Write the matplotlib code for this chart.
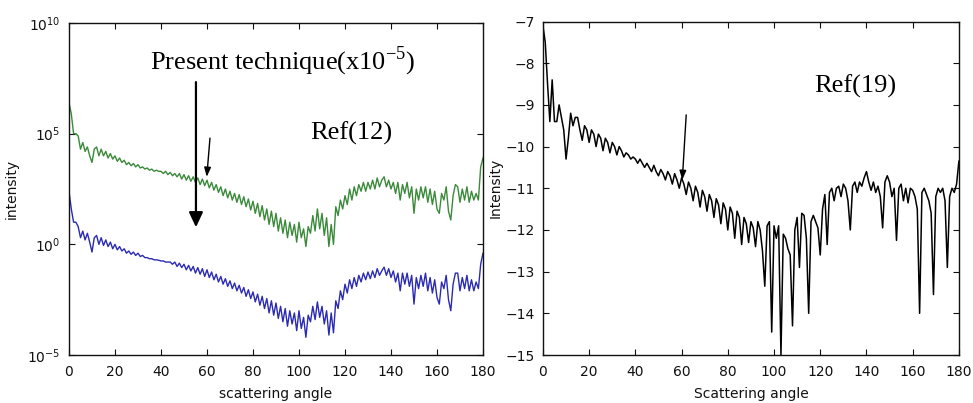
"""Two-panel scattering intensity comparison (Ref(12) vs present technique, Ref(19))."""

import matplotlib

matplotlib.use("Agg")
import matplotlib.pyplot as plt
import numpy as np

plt.rcParams["font.family"] = "DejaVu Sans"
plt.rcParams["mathtext.fontset"] = "custom"
plt.rcParams["mathtext.rm"] = "Liberation Serif"

GREEN, BLUE, INK = "#3a8a3a", "#2a2ab4", "#111111"
SERIF = "Liberation Serif"

# scattering angle, 1 degree steps
ANGLE = list(range(0, 181))

# Ref(12), log10 intensity
REF12_LOG = [
    6.4, 5.9, 5.0, 5.0, 4.9, 4.3, 4.6, 4.2, 4.4, 4.0,
    3.7, 4.3, 4.4, 4.0, 4.3, 4.0, 4.2, 3.9, 4.1, 3.85,
    4.0, 3.75, 3.9, 3.7, 3.8, 3.6, 3.7, 3.55, 3.65, 3.5,
    3.6, 3.45, 3.5, 3.4, 3.45, 3.35, 3.4, 3.3, 3.35, 3.3,
    3.3, 3.2, 3.3, 3.15, 3.25, 3.1, 3.2, 3.05, 3.2, 2.95,
    3.15, 2.9, 3.1, 2.85, 3.05, 2.8, 3.0, 2.7, 2.95, 2.65,
    2.9, 2.55, 2.8, 2.45, 2.7, 2.35, 2.6, 2.2, 2.5, 2.1,
    2.4, 2.0, 2.3, 1.9, 2.25, 1.8, 2.15, 1.7, 2.05, 1.55,
    1.95, 1.4, 1.85, 1.25, 1.75, 1.1, 1.6, 0.9, 1.5, 0.8,
    1.4, 0.6, 1.2, 0.5, 1.1, 0.3, 1.0, 0.4, 0.9, 0.1,
    1.0, 0.3, 0.7, -0.1, 0.8, 0.5, 1.3, 0.6, 1.6, 0.7,
    1.4, 0.4, 1.2, -0.1, 0.9, 0.0, 1.7, 1.3, 2.0, 1.6,
    2.2, 1.8, 2.5, 2.0, 2.6, 2.2, 2.7, 2.4, 2.8, 2.4,
    2.8, 2.5, 2.9, 2.5, 3.0, 2.6, 2.9, 3.05, 2.6, 2.9,
    2.5, 2.8, 2.3, 2.8, 2.0, 2.7, 2.3, 2.8, 2.1, 2.6,
    1.4, 2.5, 2.0, 2.6, 2.1, 2.6, 1.9, 2.5, 1.8, 2.4,
    1.6, 1.4, 2.3, 2.0, 2.6, 1.5, 1.1, 2.2, 2.7, 2.6,
    1.9, 2.5, 2.0, 2.6, 1.9, 2.4, 2.0, 2.3, 2.0, 3.5,
    3.9,
]

# present technique (x1e-5), log10 intensity
PRESENT_LOG = [
    2.4, 1.6, 1.0, 1.0, 0.8, 0.3, 0.6, 0.2, 0.5, 0.1,
    -0.35, 0.3, 0.4, 0.0, 0.3, -0.05, 0.2, -0.1, 0.1, -0.2,
    0.0, -0.25, -0.1, -0.3, -0.2, -0.4, -0.3, -0.45, -0.35, -0.5,
    -0.4, -0.55, -0.5, -0.6, -0.6, -0.65, -0.65, -0.7, -0.7, -0.72,
    -0.75, -0.75, -0.8, -0.8, -0.8, -0.9, -0.8, -1.0, -0.85, -1.05,
    -0.9, -1.15, -0.95, -1.2, -1.0, -1.3, -1.05, -1.35, -1.1, -1.45,
    -1.15, -1.5, -1.25, -1.6, -1.35, -1.7, -1.45, -1.8, -1.55, -1.9,
    -1.65, -2.0, -1.75, -2.1, -1.85, -2.2, -1.95, -2.35, -2.05, -2.45,
    -2.15, -2.6, -2.25, -2.75, -2.35, -2.9, -2.45, -3.1, -2.55, -3.2,
    -2.65, -3.35, -2.8, -3.5, -2.9, -3.7, -3.0, -3.6, -3.1, -3.9,
    -3.0, -3.8, -3.3, -4.2, -3.2, -3.5, -2.8, -3.4, -2.6, -3.3,
    -2.8, -3.6, -3.0, -4.1, -3.1, -4.0, -2.55, -2.9, -2.1, -2.5,
    -1.8, -2.2, -1.6, -2.0, -1.5, -1.9, -1.4, -1.7, -1.3, -1.6,
    -1.25, -1.55, -1.2, -1.5, -1.1, -1.4, -1.2, -1.03, -1.4, -1.1,
    -1.5, -1.2, -1.7, -1.3, -2.1, -1.3, -1.8, -1.3, -1.9, -1.4,
    -2.7, -1.5, -2.0, -1.4, -1.9, -1.3, -2.1, -1.5, -2.2, -1.6,
    -2.4, -2.7, -1.7, -2.0, -1.4, -2.5, -3.0, -1.8, -1.3, -1.3,
    -2.1, -1.5, -2.0, -1.4, -2.1, -1.6, -2.1, -1.7, -2.0, -0.9,
    -0.4,
]

# Ref(19), log10 intensity
REF19 = [
    -7.1, -7.5, -8.5, -9.4, -8.4, -9.4, -9.4, -9.0, -9.3, -9.6,
    -10.3, -9.8, -9.2, -9.5, -9.3, -9.3, -9.6, -9.85, -9.5, -9.6,
    -9.9, -9.6, -9.7, -10.0, -9.7, -9.8, -10.1, -9.8, -9.9, -10.15,
    -9.9, -10.0, -10.2, -10.0, -10.1, -10.25, -10.15, -10.2, -10.3, -10.25,
    -10.3, -10.4, -10.3, -10.4, -10.5, -10.4, -10.5, -10.6, -10.45, -10.6,
    -10.7, -10.55, -10.65, -10.8, -10.6, -10.7, -10.9, -10.65, -10.8, -11.0,
    -10.75, -10.9, -11.15, -10.85, -11.0, -11.3, -10.95, -11.1, -11.45, -11.05,
    -11.2, -11.55, -11.15, -11.3, -11.7, -11.25, -11.4, -11.85, -11.35, -11.5,
    -12.0, -11.45, -11.6, -12.2, -11.55, -11.7, -12.35, -11.7, -11.85, -12.3,
    -11.8, -11.95, -12.4, -11.8, -12.0, -12.5, -13.35, -11.9, -11.8, -14.45,
    -11.9, -12.2, -11.9, -15.0, -12.1, -12.2, -12.45, -12.6, -14.3, -12.0,
    -11.7, -12.9, -11.6, -11.65, -12.2, -14.0, -11.8, -11.65, -11.8, -11.95,
    -12.6, -11.5, -11.15, -12.35, -11.1, -11.0, -11.3, -11.0, -10.95, -11.2,
    -10.9, -11.0, -11.3, -12.0, -10.95, -10.85, -11.1, -10.85, -10.95, -10.75,
    -10.6, -10.85, -11.05, -10.85, -11.1, -10.95, -11.2, -11.95, -10.85, -10.7,
    -10.85, -11.2, -11.0, -12.25, -11.0, -10.9, -11.3, -11.0, -11.35, -11.0,
    -11.05, -11.2, -11.5, -14.0, -11.1, -11.0, -11.15, -11.3, -11.6, -13.55,
    -11.2, -11.0, -11.1, -11.0, -11.3, -12.9, -11.2, -11.0, -11.1, -10.9,
    -10.35,
]


def _style(ax):
    ax.tick_params(direction="in", length=4, width=0.8, top=True, right=True,
                   labelsize=10, colors=INK, pad=6)
    ax.tick_params(axis="x", pad=7)
    for s in ax.spines.values():
        s.set_color(INK)
        s.set_linewidth(1.0)


def _arrow(ax, tail, tip, lw, head):
    ax.annotate("", xy=tip, xytext=tail,
                arrowprops=dict(arrowstyle=f"-|>,head_width={head[0]},head_length={head[1]}",
                                lw=lw, color="k", shrinkA=0, shrinkB=0))


fig = plt.figure(figsize=(9.73, 4.03), dpi=100)

# ---- left panel: log scale ----
ax1 = fig.add_axes([0.0709, 0.1191, 0.4255, 0.8238])
x = np.array(ANGLE)
ax1.plot(x, 10.0 ** np.array(REF12_LOG), color=GREEN, lw=1.0)
ax1.plot(x, 10.0 ** np.array(PRESENT_LOG), color=BLUE, lw=1.0)
ax1.set_yscale("log")
ax1.set_xlim(0, 180)
ax1.set_ylim(1e-5, 1e10)
ax1.set_xticks(range(0, 181, 20))
ax1.set_yticks([1e-5, 1e0, 1e5, 1e10])
ax1.yaxis.set_minor_locator(matplotlib.ticker.NullLocator())
ax1.set_xlabel("scattering angle", fontsize=10, color=INK)
ax1.set_ylabel("intensity", fontsize=10, color=INK)
ax1.xaxis.set_label_coords(0.5, -0.095)
ax1.yaxis.set_label_coords(-0.122, 0.5)
_style(ax1)

ax1.text(0.517, 0.886, r"Present technique(x10$^{\mathrm{-5}}$)", transform=ax1.transAxes,
         family=SERIF, fontsize=19, ha="center", va="center", color="k")
ax1.text(0.681, 0.669, "Ref(12)", transform=ax1.transAxes,
         family=SERIF, fontsize=19, ha="center", va="center", color="k")
_arrow(ax1, (55.2, 10 ** 7.33), (55.2, 10 ** 0.77), 1.6, (0.42, 0.9))
_arrow(ax1, (61.3, 10 ** 4.8), (59.9, 10 ** 3.05), 1.0, (0.2, 0.55))

# ---- right panel: linear log10 values ----
ax2 = fig.add_axes([0.558, 0.1191, 0.4275, 0.8275])
ax2.plot(x, REF19, color="k", lw=1.1)
ax2.set_xlim(0, 180)
ax2.set_ylim(-15, -7)
ax2.set_xticks(range(0, 181, 20))
ax2.set_yticks(range(-15, -6))
ax2.set_xlabel("Scattering angle", fontsize=10, color=INK)
ax2.set_ylabel("Intensity", fontsize=10, color=INK)
ax2.xaxis.set_label_coords(0.5, -0.095)
ax2.yaxis.set_label_coords(-0.096, 0.5)
_style(ax2)

ax2.text(0.751, 0.807, "Ref(19)", transform=ax2.transAxes,
         family=SERIF, fontsize=19, ha="center", va="center", color="k")
_arrow(ax2, (62.0, -9.24), (60.3, -10.8), 1.0, (0.2, 0.55))

fig.savefig("out.png", dpi=100, facecolor="white")
